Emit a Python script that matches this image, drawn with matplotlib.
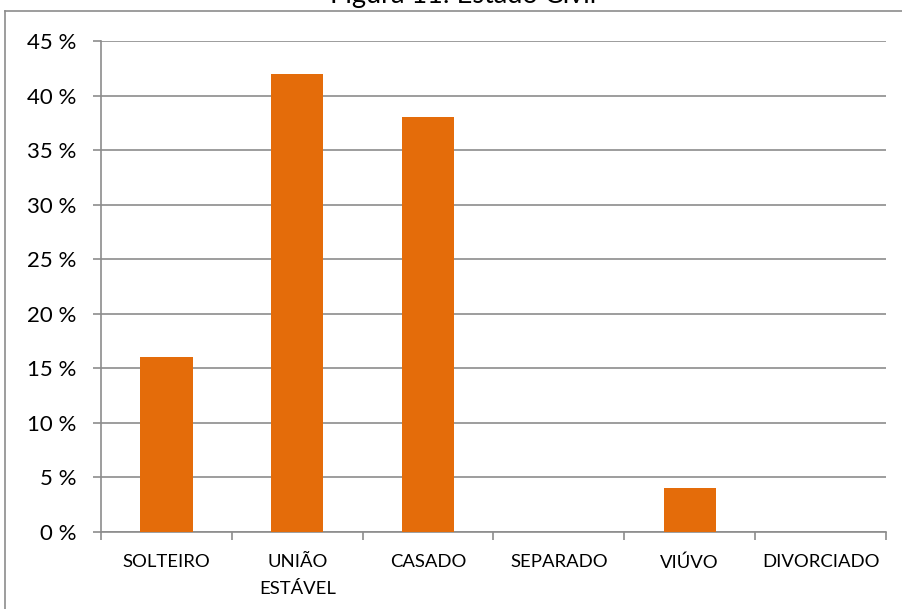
"""Bar chart: Figura 11 - Estado Civil."""

import matplotlib

matplotlib.use("Agg")
import matplotlib.pyplot as plt
from matplotlib.lines import Line2D
import numpy as np

CATEGORIES = ["SOLTEIRO", "UNIÃO\nESTÁVEL", "CASADO", "SEPARADO", "VIÚVO", "DIVORCIADO"]
PERCENTAGES = [16, 42, 38, 0, 4, 0]
Y_TICKS = [0, 5, 10, 15, 20, 25, 30, 35, 40, 45]
TITLE = "Figura 11: Estado Civil"

BAR_COLOR = "#E46C0A"
GRID_COLOR = "#8C8C8C"

plt.rcParams["font.family"] = ["Lato", "DejaVu Sans"]

W, H = 902, 609
fig = plt.figure(figsize=(W / 100, H / 100), dpi=100)
ax = fig.add_axes([101 / W, 1 - 532 / H, (886 - 101) / W, (532 - 41) / H])

positions = np.arange(len(CATEGORIES))
ax.bar(positions, PERCENTAGES, width=0.4, color=BAR_COLOR, zorder=3)

ax.set_xlim(-0.5, len(CATEGORIES) - 0.5)
ax.set_ylim(0, 45)
ax.set_yticks(Y_TICKS)
ax.set_yticklabels([f"{t} %" for t in Y_TICKS], fontsize=16)
ax.set_xticks(positions)
ax.set_xticklabels(CATEGORIES, fontsize=13.3, linespacing=1.85)
ax.tick_params(axis="x", length=0, pad=16)
ax.set_xticks(np.arange(len(CATEGORIES) + 1) - 0.5, minor=True)
ax.tick_params(axis="x", which="minor", length=6, color=GRID_COLOR, width=1.2)
ax.tick_params(axis="y", length=6, color=GRID_COLOR, width=1.2, pad=12)

ax.grid(axis="y", color=GRID_COLOR, linewidth=1.2, zorder=0)
for side in ("top", "right"):
    ax.spines[side].set_visible(False)
for side in ("left", "bottom"):
    ax.spines[side].set_color(GRID_COLOR)
    ax.spines[side].set_linewidth(1.2)

# chart frame (only partly visible in the crop)
fig.add_artist(Line2D([4.5 / W, 4.5 / W], [0, 1 - 11 / H], color="#8C8C8C",
                      linewidth=1.2, transform=fig.transFigure))
fig.add_artist(Line2D([4.5 / W, 1], [1 - 11 / H, 1 - 11 / H], color="#8C8C8C",
                      linewidth=1.2, transform=fig.transFigure))

fig.text(0.5 + 12 / W, 1 - 3 / H, TITLE, ha="center", va="baseline", fontsize=19.5)

fig.savefig("out.png", dpi=100)
